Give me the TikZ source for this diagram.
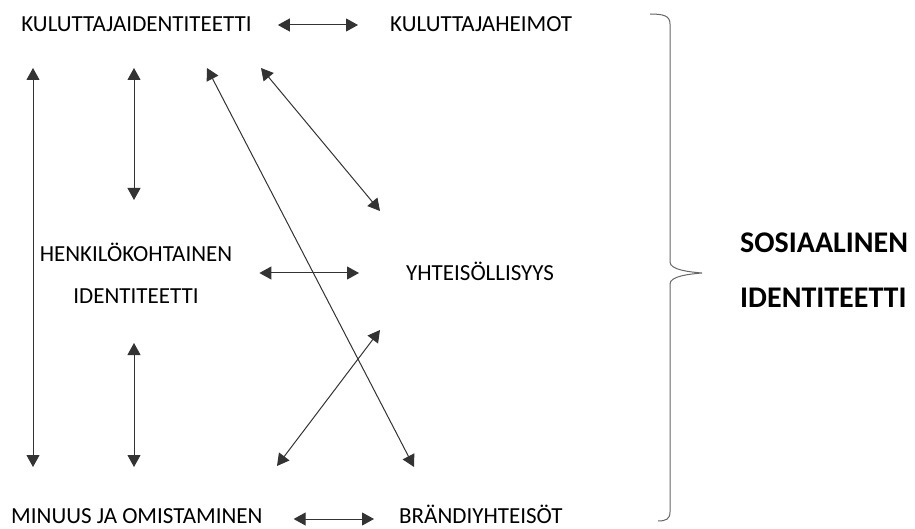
\documentclass[tikz,border=0pt]{standalone}
\usepackage{fontspec}
\setmainfont{Carlito}
\usetikzlibrary{arrows.meta}

\begin{document}
\begin{tikzpicture}[x=1pt,y=-1pt,
  every node/.style={font=\fontsize{23}{42}\selectfont,inner sep=0pt},
  twohead/.style={{Triangle[length=12pt,width=13pt]}-{Triangle[length=12pt,width=13pt]},line width=1pt,black!80},
  headline/.style={font=\fontsize{30}{55}\selectfont\bfseries,align=left}]
\useasboundingbox (0,0) rectangle (915,529);
% texts
\node[anchor=base] (kid) at (136.5,32) {KULUTTAJAIDENTITEETTI};
\node[anchor=base west] (khe) at (390,32) {KULUTTAJAHEIMOT};
\node[align=center] (hid) at (136,273) {HENKILÖKOHTAINEN\\IDENTITEETTI};
\node[anchor=base west] (yht) at (406,280) {YHTEISÖLLISYYS};
\node[anchor=base west] (min) at (11,523) {MINUUS JA OMISTAMINEN};
\node[anchor=base west] (bra) at (399,523) {BRÄNDIYHTEISÖT};
\node[headline,anchor=west] (sos) at (740,270) {SOSIAALINEN\\IDENTITEETTI};
% arrow ends
\coordinate (l-top) at (33,68);   \coordinate (l-bot) at (33,467);
\coordinate (m-top) at (134,68);  \coordinate (m-mid) at (134,200);
\coordinate (m-low) at (134,343); \coordinate (m-bot) at (134,467);
\coordinate (d1-top) at (207,68); \coordinate (d1-bot) at (414,467);
\coordinate (d2-top) at (261,68); \coordinate (d2-bot) at (380,211);
\coordinate (d3-top) at (380,330); \coordinate (d3-bot) at (277,466);
% horizontal arrows
\draw[twohead,shorten <=26pt,shorten >=32pt] ([yshift=7pt]kid.base east) -- ([yshift=7pt]khe.base west);
\draw[twohead,shorten <=27pt,shorten >=47pt] (hid.east) -- (hid.east -| yht.west);
\draw[twohead,shorten <=31pt,shorten >=25pt] ([yshift=4pt]min.base east) -- ([yshift=4pt]bra.base west);
% vertical and diagonal arrows
\draw[twohead] (l-top) -- (l-bot);
\draw[twohead] (m-top) -- (m-mid);
\draw[twohead] (m-low) -- (m-bot);
\draw[twohead] (d1-top) -- (d1-bot);
\draw[twohead] (d2-top) -- (d2-bot);
\draw[twohead] (d3-top) -- (d3-bot);
% brace
\draw[black!60,line width=1pt] (650,14) .. controls (664,14) and (670,16) .. (670,24)
  -- (670,262) .. controls (670,270) and (690,272) .. (702,273)
  .. controls (690,274) and (670,276) .. (670,284)
  -- (670,512) .. controls (670,519) and (666,521) .. (658,521);
\end{tikzpicture}
\end{document}
